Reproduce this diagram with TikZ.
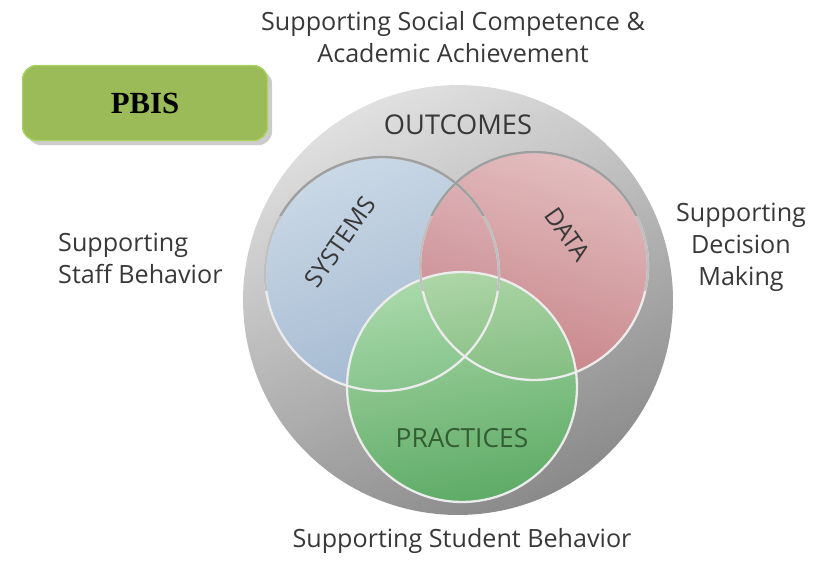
\documentclass[tikz,border=0pt]{standalone}
\usepackage{fontspec}
\setmainfont{Open Sans}
\newfontfamily\pbisfont{Liberation Serif}
\usetikzlibrary{shadows}

\definecolor{pbisgreen}{HTML}{9BBB59}
\definecolor{pbisedge}{HTML}{A9D25E}
\definecolor{txtgray}{HTML}{383838}
\definecolor{ringlight}{HTML}{E0E0E0}
\definecolor{ringdark}{HTML}{8A8A8A}
\definecolor{sysblue}{HTML}{CAD8E6}
\definecolor{sysbluedark}{HTML}{A2B8D0}
\definecolor{datared}{HTML}{E6BCBE}
\definecolor{dataredark}{HTML}{CB7F85}
\definecolor{praclight}{HTML}{AADBA7}
\definecolor{pracdark}{HTML}{5AAE63}

\begin{document}
\begin{tikzpicture}[x=0.02cm, y=-0.02cm]
	\tikzset{lbl/.style={font=\fontsize{14.3}{18.3}\selectfont, text=txtgray, align=center}};
	\tikzset{vlbl/.style={font=\fontsize{14}{16}\selectfont, text=txtgray}};
	\tikzset{ring/.style={circle, draw=white!85!gray, line width=1.3pt, inner sep=0pt}};

	\useasboundingbox (0,0) rectangle (827,562);

	% PBIS box
	\node[rounded corners=8pt, fill=pbisgreen, draw=pbisedge, line width=0.8pt, drop shadow={opacity=0.4},
		minimum width=4.9cm, minimum height=1.5cm, font=\pbisfont\bfseries\fontsize{17.5}{20}\selectfont]
		(pbis) at (145,103) {\raisebox{-2.3pt}{PBIS}};

	% circles
	\node[circle, minimum size=8.6cm, inner sep=0pt, top color=ringlight, bottom color=ringdark,
		shading angle=25] (outcomes) at (458,300) {};
	\node[circle, minimum size=4.68cm, inner sep=0pt, top color=sysblue, bottom color=sysbluedark,
		shading angle=20] (systems) at (382,274) {};
	\node[circle, minimum size=4.56cm, inner sep=0pt, top color=datared, bottom color=dataredark,
		shading angle=-20, fill opacity=0.9] (data) at (534,266) {};
	\node[circle, minimum size=4.6cm, inner sep=0pt, top color=praclight, bottom color=pracdark,
		shading angle=10, fill opacity=0.92] (practices) at (462,387) {};

	% outlines, darker at the top
	\node[ring, minimum size=4.68cm] at (systems) {};
	\node[ring, minimum size=4.56cm] at (data) {};
	\node[ring, minimum size=4.6cm] at (practices) {};
	\begin{scope}
		\clip (0,0) rectangle (827,290);
		\node[ring, draw=gray!50, minimum size=4.68cm] at (systems) {};
		\node[ring, draw=gray!50, minimum size=4.56cm] at (data) {};
	\end{scope}
	\begin{scope}
		\clip (0,0) rectangle (827,215);
		\node[ring, draw=gray!75, minimum size=4.68cm] at (systems) {};
		\node[ring, draw=gray!75, minimum size=4.56cm] at (data) {};
	\end{scope}

	% circle labels
	\node[vlbl, font=\fontsize{15.5}{18}\selectfont] (outlbl) at (458,125) {OUTCOMES};
	\node[vlbl, rotate=55] (syslbl) at (340,242) {SYSTEMS};
	\node[vlbl, rotate=-55] (datalbl) at (568,234) {DATA};
	\node[vlbl, font=\fontsize{15}{18}\selectfont, text=black!72!green!60!gray] (praclbl) at (462,438) {PRACTICES};

	% outside labels
	\node[lbl] (social) at (453,37) {Supporting Social Competence \&\\Academic Achievement};
	\node[lbl, align=left, anchor=west] (staff) at (52,258) {Supporting\\Staff Behavior};
	\node[lbl] (decision) at (741,247) {Supporting\\Decision\\Making};
	\node[lbl] (student) at (462,541) {Supporting Student Behavior};
\end{tikzpicture}
\end{document}
